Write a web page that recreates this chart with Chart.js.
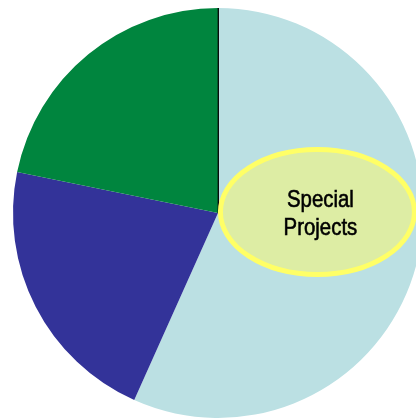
<!DOCTYPE html>
<html>
<head>
<meta charset="utf-8">
<script src="https://cdn.jsdelivr.net/npm/chart.js@4"></script>
<style>
  html, body { margin: 0; padding: 0; overflow: hidden; background: #ffffff; width: 416px; height: 419px; }
  #wrap { position: absolute; left: 0; top: 0; width: 436px; height: 426px; }
</style>
</head>
<body>
<div id="wrap"><canvas id="c" width="436" height="426"></canvas></div>
<script>
// Data (percent of the pie), clockwise from 12 o'clock
const categories = ["Special Projects", "Segment B", "Segment C"];
const shares = [56.7, 21.5, 21.8];
const sliceColors = ["#BBE0E3", "#333399", "#00853E"];
const calloutLabel = ["Special", "Projects"];

const overlayPlugin = {
  id: 'overlay',
  afterDatasetsDraw(chart) {
    const ctx = chart.ctx;
    const arcs = chart.getDatasetMeta(0).data;
    const first = arcs[0];
    const cx = first.x, cy = first.y, r = first.outerRadius;
    // black edge at the start of the first slice
    ctx.save();
    ctx.strokeStyle = '#000000';
    ctx.lineWidth = 1.3;
    ctx.beginPath();
    ctx.moveTo(cx + 0.3, cy);
    ctx.lineTo(cx + 0.3 + r * Math.cos(first.startAngle), cy + r * Math.sin(first.startAngle));
    ctx.stroke();
    // callout ellipse on the first slice
    const ex = cx + r * 0.485, ey = cy - 1;
    ctx.beginPath();
    ctx.ellipse(ex, ey, 97, 62.5, 0, 0, Math.PI * 2);
    ctx.fillStyle = '#DDEDA4';
    ctx.fill();
    ctx.lineWidth = 5;
    ctx.strokeStyle = '#FFFF66';
    ctx.stroke();
    // condensed label
    ctx.fillStyle = '#000000';
    ctx.strokeStyle = '#000000';
    ctx.lineWidth = 0.6;
    ctx.font = '24px "Liberation Sans", Arial, sans-serif';
    ctx.textAlign = 'center';
    ctx.textBaseline = 'alphabetic';
    const tx = ex + 3;
    ctx.translate(tx, 0);
    ctx.scale(0.85, 1);
    ctx.fillText(calloutLabel[0], 0, 207);
    ctx.strokeText(calloutLabel[0], 0, 207);
    ctx.fillText(calloutLabel[1], 0, 235);
    ctx.strokeText(calloutLabel[1], 0, 235);
    ctx.restore();
  }
};

new Chart(document.getElementById('c'), {
  type: 'pie',
  data: {
    labels: categories,
    datasets: [{
      data: shares,
      backgroundColor: sliceColors,
      borderWidth: 0
    }]
  },
  options: {
    responsive: false,
    animation: false,
    devicePixelRatio: 1,
    layout: { padding: { top: 8, bottom: 8, left: 8, right: 8 } },
    plugins: { legend: { display: false }, tooltip: { enabled: false } }
  },
  plugins: [overlayPlugin]
});
</script>
</body>
</html>
